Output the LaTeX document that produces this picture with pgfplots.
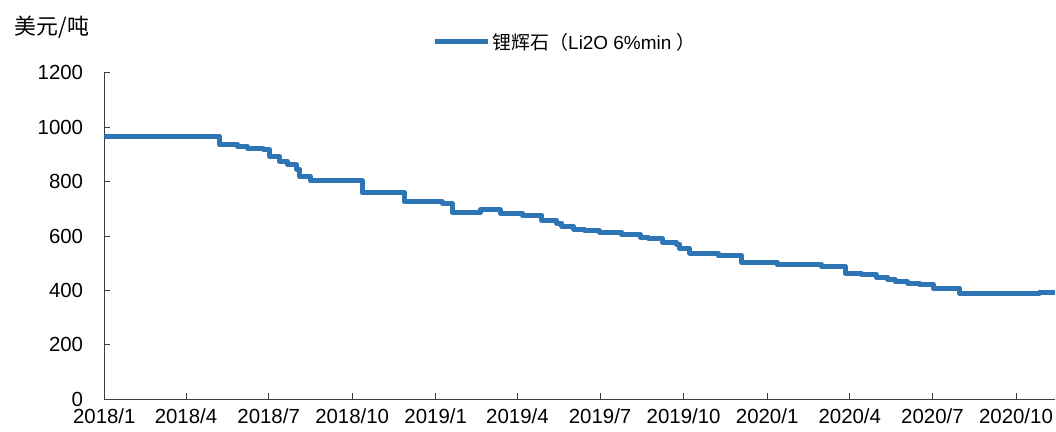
\documentclass[border=0pt]{standalone}
\usepackage{fontspec}
\setmainfont{Liberation Sans}
\newfontfamily\cjk{Noto Sans CJK SC}
\usepackage{pgfplots}
\pgfplotsset{compat=1.18}
\definecolor{lineblue}{RGB}{46,117,182}
\definecolor{axgray}{RGB}{60,60,60}
\begin{document}
\begin{tikzpicture}
\useasboundingbox (0,0) rectangle (1056bp,432bp);
\node[anchor=center, inner sep=0pt] at (52bp,405bp) {\fontsize{22}{26}\selectfont\cjk 美元/吨};
\begin{axis}[
  at={(104.3bp,32.7bp)}, anchor=south west,
  scale only axis, width=950.7bp, height=326.6bp,
  xmin=0, xmax=1047, ymin=0, ymax=1200,
  axis lines=left,
  axis line style={-, axgray, line width=0.9bp},
  tick style={axgray, line width=0.9bp},
  tick align=inside,
  major tick length=6bp,
  xtick={0,90,181,273,365,455,546,638,730,821,912,1004},
  xticklabels={2018/1,2018/4,2018/7,2018/10,2019/1,2019/4,2019/7,2019/10,2020/1,2020/4,2020/7,2020/10},
  ytick={0,200,400,600,800,1000,1200},
  /pgf/number format/assume math mode=true,
  /pgf/number format/1000 sep={},
  tick label style={font=\fontsize{20.5}{24}\selectfont, text=black, inner sep=0pt},
  yticklabel style={xshift=-21bp},
  xticklabel style={yshift=-9.5bp},
  legend style={at={(0.4846,1.095)}, anchor=center, draw=none, fill=none,
    font=\fontsize{19}{22}\selectfont, inner sep=0pt},
  legend image code/.code={\draw[#1, line width=5bp] (0bp,0bp) -- (53bp,0bp);},
  clip=true,
]
\addplot[const plot, lineblue, line width=5bp, line join=round] coordinates {
(0,965) (127,935) (147,927) (158,921) (175,917) (182,892) (193,874) (202,862)
(212,846) (215,819) (227,803) (284,758) (331,725) (372,720) (383,686) (414,696)
(436,684) (461,675) (482,657) (498,647) (504,635) (517,625) (529,620) (545,614)
(570,605) (590,596) (599,590) (615,577) (630,570) (634,553) (645,537) (676,527)
(702,502) (741,494) (790,488) (816,463) (834,458) (850,449) (863,439) (871,431)
(885,427) (898,421) (913,408) (942,390) (1030,393) (1047,393)
};
\addlegendentry{{\cjk 锂辉石（}Li2O 6\%min {\cjk ）}}
\end{axis}
\end{tikzpicture}
\end{document}
